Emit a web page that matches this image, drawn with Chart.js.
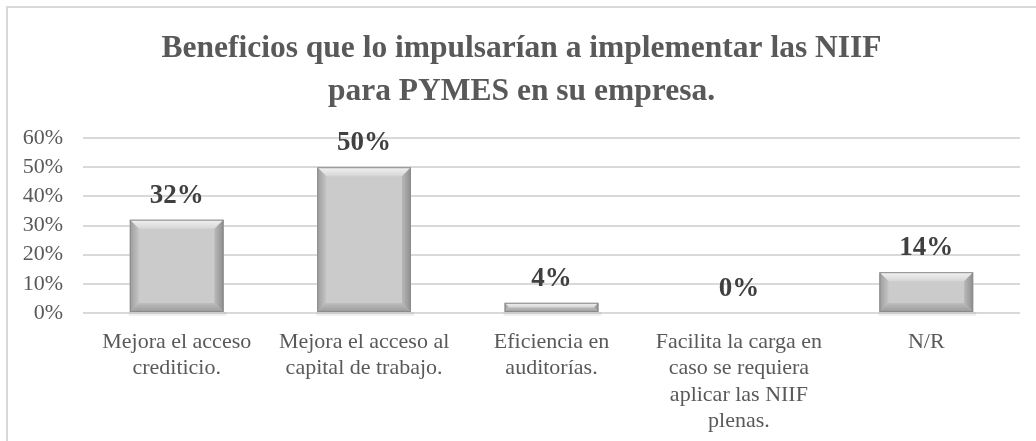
<!DOCTYPE html>
<html>
<head>
<meta charset="utf-8">
<script src="https://cdn.jsdelivr.net/npm/chart.js@4/dist/chart.umd.min.js"></script>
<style>
  html, body { margin: 0; padding: 0; background: #fff; overflow: hidden; }
  #wrap { position: relative; width: 1036px; height: 441px; }
  #frame { position: absolute; left: 6px; top: 6px; width: 1040px; height: 450px; border: 2px solid #d9d9d9; box-sizing: border-box; pointer-events: none; }
  canvas { position: absolute; left: 0; top: 0; }
</style>
</head>
<body>
<div id="wrap">
  <canvas id="c" width="1036" height="441"></canvas>
  <div id="frame"></div>
</div>
<script>
const titleLines = ["Beneficios que lo impulsarían a implementar las NIIF", "para PYMES en su empresa."];
const categories = [
  ["Mejora el acceso", "crediticio."],
  ["Mejora el acceso al", "capital de trabajo."],
  ["Eficiencia en", "auditorías."],
  ["Facilita la carga en", "caso se requiera", "aplicar las NIIF", "plenas."],
  ["N/R"]
];
const values = [32, 50, 3.5, 0, 14];
const yTicks = [0, 10, 20, 30, 40, 50, 60];

const FONT = "'Liberation Serif', 'Times New Roman', serif";

const bevelPlugin = {
  id: 'bevel',
  afterDatasetsDraw(chart) {
    const ctx = chart.ctx;
    const meta = chart.getDatasetMeta(0);
    meta.data.forEach((bar) => {
      const p = bar.getProps(['x', 'y', 'base', 'width'], true);
      const h = p.base - p.y;
      if (h < 1) return;
      const l = p.x - p.width / 2, r = p.x + p.width / 2, t = p.y, b = p.base;
      const bv = Math.min(9, h / 2, p.width / 2);
      ctx.save();
      ctx.fillStyle = 'rgba(0,0,0,0.06)';
      ctx.fillRect(l - 1, b, p.width + 4, 4);
      ctx.fillStyle = '#cbcbcb';
      ctx.fillRect(l, t, p.width, h);
      let g = ctx.createLinearGradient(0, t, 0, t + bv);
      g.addColorStop(0, '#f2f2f2'); g.addColorStop(1, '#d6d6d6');
      ctx.fillStyle = g;
      ctx.beginPath(); ctx.moveTo(l, t); ctx.lineTo(r, t); ctx.lineTo(r - bv, t + bv); ctx.lineTo(l + bv, t + bv); ctx.closePath(); ctx.fill();
      g = ctx.createLinearGradient(l, 0, l + bv, 0);
      g.addColorStop(0, '#9c9c9c'); g.addColorStop(1, '#c4c4c4');
      ctx.fillStyle = g;
      ctx.beginPath(); ctx.moveTo(l, t); ctx.lineTo(l + bv, t + bv); ctx.lineTo(l + bv, b - bv); ctx.lineTo(l, b); ctx.closePath(); ctx.fill();
      g = ctx.createLinearGradient(r, 0, r - bv, 0);
      g.addColorStop(0, '#8e8e8e'); g.addColorStop(1, '#b8b8b8');
      ctx.fillStyle = g;
      ctx.beginPath(); ctx.moveTo(r, t); ctx.lineTo(r - bv, t + bv); ctx.lineTo(r - bv, b - bv); ctx.lineTo(r, b); ctx.closePath(); ctx.fill();
      g = ctx.createLinearGradient(0, b, 0, b - bv);
      g.addColorStop(0, '#9a9a9a'); g.addColorStop(1, '#bdbdbd');
      ctx.fillStyle = g;
      ctx.beginPath(); ctx.moveTo(l, b); ctx.lineTo(r, b); ctx.lineTo(r - bv, b - bv); ctx.lineTo(l + bv, b - bv); ctx.closePath(); ctx.fill();
      ctx.strokeStyle = '#8a8a8a';
      ctx.lineWidth = 1;
      ctx.strokeRect(l + 0.5, t + 0.5, p.width - 1, h - 1);
      ctx.restore();
    });
  }
};

const labelPlugin = {
  id: 'valueLabels',
  afterDatasetsDraw(chart) {
    const ctx = chart.ctx;
    const meta = chart.getDatasetMeta(0);
    ctx.save();
    ctx.font = "bold 27px " + FONT;
    ctx.fillStyle = '#404040';
    ctx.textAlign = 'center';
    ctx.textBaseline = 'alphabetic';
    meta.data.forEach((bar, i) => {
      const p = bar.getProps(['x', 'y'], true);
      ctx.fillText(Math.round(values[i]) + '%', p.x, p.y - 17);
    });
    ctx.restore();
  }
};

new Chart(document.getElementById('c'), {
  type: 'bar',
  data: {
    labels: categories,
    datasets: [{
      data: values,
      backgroundColor: '#cbcbcb',
      borderWidth: 0,
      barPercentage: 0.5,
      categoryPercentage: 1.0
    }]
  },
  options: {
    responsive: false,
    devicePixelRatio: 1,
    animation: false,
    events: [],
    layout: { padding: { left: 23, right: 16, top: 28, bottom: 5 } },
    plugins: {
      legend: { display: false },
      tooltip: { enabled: false },
      title: {
        display: true,
        text: titleLines,
        color: '#595959',
        font: { family: FONT, size: 31.5, weight: 'bold', lineHeight: 1.35 },
        padding: { top: 0, bottom: 25 }
      }
    },
    scales: {
      x: {
        afterFit(axis) { axis.height = 123; },
        grid: { display: false, drawTicks: false },
        border: { display: false },
        ticks: {
          color: '#595959',
          font: { family: FONT, size: 22, lineHeight: 1.2 },
          maxRotation: 0, minRotation: 0, autoSkip: false,
          padding: 16
        }
      },
      y: {
        min: 0, max: 60,
        afterFit(axis) { axis.width = 60; },
        afterBuildTicks(axis) { axis.ticks = yTicks.map(v => ({ value: v })); },
        grid: { color: '#d9d9d9', lineWidth: 2, drawTicks: false },
        border: { display: false },
        ticks: {
          color: '#595959',
          font: { family: FONT, size: 22 },
          padding: 20,
          autoSkip: false,
          stepSize: 10,
          callback: (v) => v + '%'
        }
      }
    }
  },
  plugins: [bevelPlugin, labelPlugin]
});
</script>
</body>
</html>
